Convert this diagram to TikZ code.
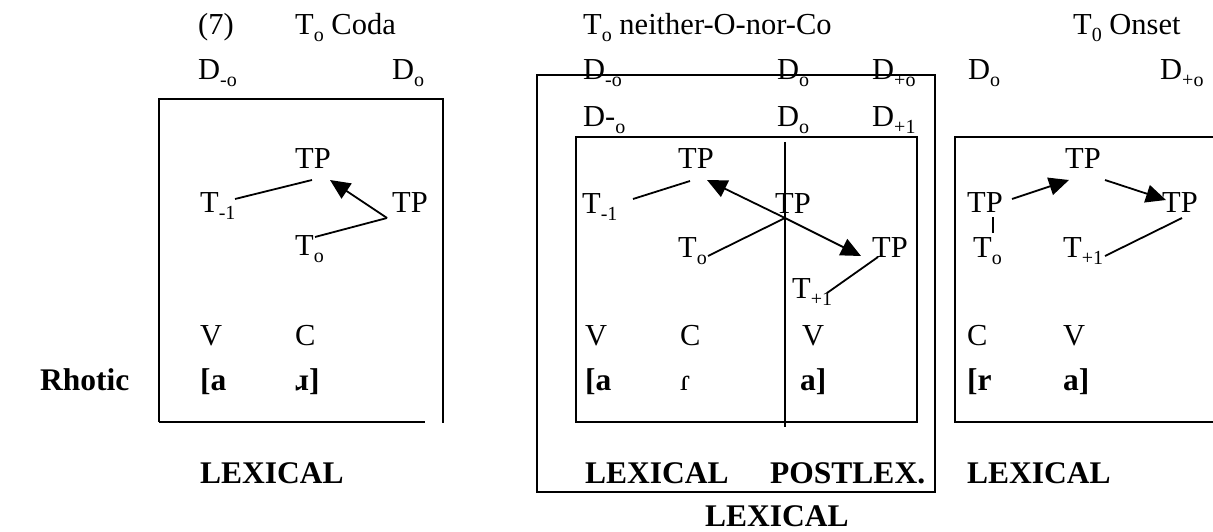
\documentclass[tikz,border=0pt]{standalone}
\usepackage{fontspec}
\setmainfont{Liberation Serif}
\usetikzlibrary{arrows.meta}
\newcommand\sbs[1]{\raisebox{-7pt}{\fontsize{20}{20}\selectfont #1}}
\begin{document}
\begin{tikzpicture}[x=1pt,y=-1pt,
  txt/.style={anchor=base west, inner sep=0pt, font=\fontsize{30.5}{32}\selectfont},
  bld/.style={anchor=base west, inner sep=0pt, font=\fontsize{31.5}{33}\selectfont\bfseries},
  tline/.style={line width=1.8pt},
  arr/.style={line width=1.8pt, -{Triangle[length=20pt,width=18pt]}},
  boxline/.style={line width=1.2pt}]
\useasboundingbox (0,0) rectangle (1213,532);

% titles
\node[txt] (n7) at (198,35) {(7)};
\node[txt] (title1) at (295,35) {T\sbs{o} Coda};
\node[txt] (title2) at (583,35) {T\sbs{o} neither-O-nor-Co};
\node[txt] (title3) at (1073,35) {T\sbs{0} Onset};

% D labels
\node[txt] (d1a) at (198,80) {D\sbs{-o}};
\node[txt] (d1b) at (392,80) {D\sbs{o}};
\node[txt] (d2a) at (583,80) {D\sbs{-o}};
\node[txt] (d2b) at (777,80) {D\sbs{o}};
\node[txt] (d2c) at (872,80) {D\sbs{+o}};
\node[txt] (d2d) at (583,127) {D-\sbs{o}};
\node[txt] (d2e) at (777,127) {D\sbs{o}};
\node[txt] (d2f) at (872,127) {D\sbs{+1}};
\node[txt] (d3a) at (968,80) {D\sbs{o}};
\node[txt] (d3b) at (1160,80) {D\sbs{+o}};

% boxes
\draw[boxline] (159,422) -- (159,99) -- (443,99) -- (443,423);
\draw[boxline] (159,422) -- (425,422);
\draw[boxline] (537,75) rectangle (935,492);
\draw[boxline] (576,137) rectangle (917,422);
\draw[boxline] (785,142) -- (785,427);
\draw[boxline] (1213,137) -- (955,137) -- (955,422) -- (1213,422);

% tree 1
\node[txt] (a_tp) at (295,168) {TP};
\node[txt] (a_tm) at (200,212) {T\sbs{-1}};
\node[txt] (a_tpr) at (392,212) {TP};
\node[txt] (a_to) at (295,255) {T\sbs{o}};
\coordinate (a1) at (235,199); \coordinate (a2) at (312,180);
\coordinate (a3) at (387,218); \coordinate (a4) at (330,180);
\coordinate (a5) at (315,237);
\draw[tline] (a1) -- (a2);
\draw[arr] (a3) -- (a4);
\draw[tline] (a3) -- (a5);

% tree 2
\node[txt] (b_tp) at (678,168) {TP};
\node[txt] (b_tm) at (582,213) {T\sbs{-1}};
\node[txt] (b_tpm) at (775,213) {TP};
\node[txt] (b_to) at (678,257) {T\sbs{o}};
\node[txt] (b_tpr) at (872,257) {TP};
\node[txt] (b_tp1) at (792,298) {T\sbs{+1}};
\coordinate (b1) at (633,199); \coordinate (b2) at (690,181);
\coordinate (bx) at (785,218);
\coordinate (b3) at (707,180); \coordinate (b4) at (861,256);
\coordinate (b5) at (708,256);
\coordinate (b6) at (827,293); \coordinate (b7) at (878,257);
\draw[tline] (b1) -- (b2);
\draw[arr] (bx) -- (b3);
\draw[arr] (bx) -- (b4);
\draw[tline] (b5) -- (bx);
\draw[tline] (b6) -- (b7);

% tree 3
\node[txt] (c_tp) at (1065,168) {TP};
\node[txt] (c_tpl) at (967,212) {TP};
\node[txt] (c_tpr) at (1162,212) {TP};
\node[txt] (c_to) at (973,257) {T\sbs{o}};
\node[txt] (c_tp1) at (1063,257) {T\sbs{+1}};
\coordinate (c1) at (1012,199); \coordinate (c2) at (1069,180);
\coordinate (c3) at (1105,180); \coordinate (c4) at (1166,200);
\coordinate (c5) at (993,217); \coordinate (c6) at (993,233);
\coordinate (c7) at (1105,256); \coordinate (c8) at (1182,218);
\draw[arr] (c1) -- (c2);
\draw[arr] (c3) -- (c4);
\draw[line width=1.2pt] (c5) -- (c6);
\draw[tline] (c7) -- (c8);

% segments
\node[bld] (rhotic) at (40,390) {Rhotic};
\node[txt] (v1) at (200,345) {V};
\node[txt] (cc1) at (295,345) {C};
\node[bld] (s1a) at (200,390) {[a};
\node[bld] (s1b) at (295,390) {ɹ]};
\node[txt] (v2) at (585,345) {V};
\node[txt] (cc2) at (680,345) {C};
\node[txt] (v2b) at (802,345) {V};
\node[bld] (s2a) at (585,390) {[a};
\node[txt] (s2b) at (680,390) {ɾ};
\node[bld] (s2c) at (800,390) {a]};
\node[txt] (cc3) at (967,345) {C};
\node[txt] (v3) at (1063,345) {V};
\node[bld] (s3a) at (967,390) {[r};
\node[bld] (s3b) at (1063,390) {a]};

% levels
\node[bld] (lex1) at (200,483) {LEXICAL};
\node[bld] (lex2) at (585,483) {LEXICAL};
\node[bld] (post) at (770,483) {POSTLEX.};
\node[bld] (lex3) at (967,483) {LEXICAL};
\node[bld] (lex4) at (705,526) {LEXICAL};
\end{tikzpicture}
\end{document}
